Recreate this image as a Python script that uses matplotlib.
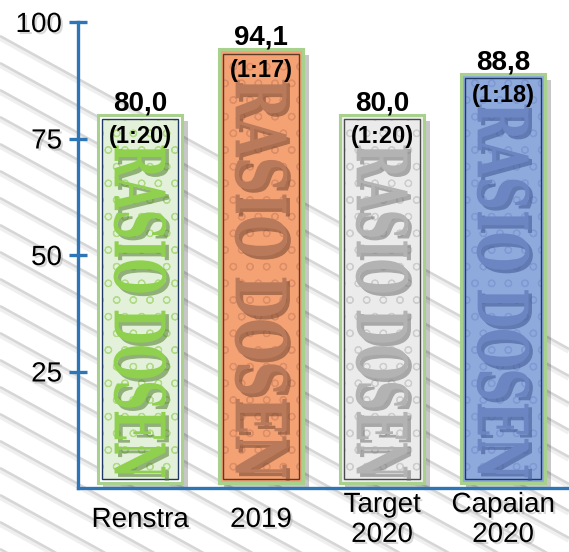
import matplotlib
matplotlib.use("Agg")
import matplotlib.pyplot as plt
import matplotlib.colors as mcolors
from matplotlib import patheffects as pe
from matplotlib.transforms import Affine2D
from matplotlib.lines import Line2D

# ---------------- data ----------------
categories = ["Renstra", "2019", "Target\n2020", "Capaian\n2020"]
values = [80.0, 94.1, 80.0, 88.8]
ratios = ["(1:20)", "(1:17)", "(1:20)", "(1:18)"]
yticks = [25, 50, 75, 100]
bar_word = "RASIO DOSEN"

# ---------------- styles ----------------
gap_colors = ["#ffffff", "#f4a274", "#eeeeee", "#8eaadc"]
fill_colors = ["#e4f1da", "#f4a274", "#ebebeb", "#8eaadc"]
hatch_colors = ["#b0db86", "#dc8d66", "#cdcdcd", "#7f99d2"]
inner_edge = ["#1f3864", "#5b3a26", "#4a4a4a", "#1f3864"]
word_colors = ["#8fd14f", "#b97a5b", "#b3b3b3", "#6b86c2"]
word_shadow = ["#4d7a2a", "#6e4330", "#707070", "#3d5590"]
AXIS_BLUE = "#2e75b6"
BORDER_GREEN = "#a9d18e"

plt.rcParams["font.family"] = ["Liberation Sans", "DejaVu Sans"]
plt.rcParams["hatch.linewidth"] = 0.8

W, H = 569, 552
fig = plt.figure(figsize=(W / 100, H / 100), dpi=100)
fig.patch.set_facecolor("white")

# background diagonal stripes (decoration)
slope = 0.55
spacing = 27.0
k = -int((slope * W) / spacing) - 2
while True:
    y0 = 387 + spacing * k
    if y0 > H + spacing:
        break
    y1 = y0 + slope * W
    fy0, fy1 = 1 - y0 / H, 1 - y1 / H
    fig.add_artist(Line2D([0, 1], [fy0 - 2 / H, fy1 - 2 / H], transform=fig.transFigure,
                          color="#efefef", lw=4.0, zorder=-3, solid_capstyle="butt"))
    fig.add_artist(Line2D([0, 1], [fy0, fy1], transform=fig.transFigure,
                          color="#d6d6d6", lw=1.8, zorder=-2, solid_capstyle="butt"))
    k += 1

ax = fig.add_axes([78 / W, (H - 488) / H, (W - 78) / W, (488 - 22) / H])
ax.patch.set_visible(False)
ax.set_xlim(-0.512, 3.545)
ax.set_ylim(0, 100)

x = list(range(len(categories)))


class StretchWord(pe.AbstractPathEffect):
    """Draw text path stretched to fill a box given in data coords, with a shadow."""

    def __init__(self, axes, xc, y0, y1, width_pt, shadow, offset=(2.5, -2.5)):
        super().__init__()
        self.axes = axes
        self.xc, self.y0, self.y1 = xc, y0, y1
        self.width_pt = width_pt
        self.shadow = mcolors.to_rgba(shadow)
        self.off = offset

    def draw_path(self, renderer, gc, tpath, affine, rgbFace=None):
        ext = tpath.get_extents(affine)
        dx0, dy0 = self.axes.transData.transform((self.xc, self.y0))
        _, dy1 = self.axes.transData.transform((self.xc, self.y1))
        tw = renderer.points_to_pixels(self.width_pt)
        th = abs(dy1 - dy0)
        sx = tw / ext.width
        sy = th / ext.height
        cx = ext.x0 + ext.width / 2
        cy = ext.y0 + ext.height / 2
        t = affine + Affine2D().translate(-cx, -cy).scale(sx, sy).translate(dx0, (dy0 + dy1) / 2)
        ox = renderer.points_to_pixels(self.off[0])
        oy = renderer.points_to_pixels(self.off[1])
        gc0 = renderer.new_gc()
        gc0.copy_properties(gc)
        gc0.set_alpha(0.55)
        renderer.draw_path(gc0, tpath, t + Affine2D().translate(ox, oy), self.shadow)
        gc0.restore()
        renderer.draw_path(gc, tpath, t, rgbFace)


bw = 0.70
inset_x = 0.066
for i, (xi, v) in enumerate(zip(x, values)):
    # outer bar with green border and shadow
    ax.bar(xi, v - 1.0, bottom=1.0, width=bw, facecolor=gap_colors[i],
           edgecolor=BORDER_GREEN, linewidth=2.2, zorder=2,
           path_effects=[pe.SimplePatchShadow(offset=(4, -4), shadow_rgbFace="black", alpha=0.22),
                         pe.Normal()])
    # inner fill
    ax.bar(xi, v - 2.8, bottom=1.9, width=bw - inset_x, facecolor=fill_colors[i],
           edgecolor="none", linewidth=0, zorder=3)
    # scale-like pattern
    ax.bar(xi, v - 2.8, bottom=1.9, width=bw - inset_x, facecolor="none",
           edgecolor=hatch_colors[i], hatch="o", linewidth=0, zorder=4)
    # inner dark outline
    ax.bar(xi, v - 2.8, bottom=1.9, width=bw - inset_x, facecolor="none",
           edgecolor=inner_edge[i], linewidth=1.0, zorder=5)
    # vertical word (stretched to fill the bar below the ratio label)
    y_lo, y_hi = 2.3, v - 6.5
    t = ax.text(xi, (y_lo + y_hi) / 2, bar_word, rotation=-90, ha="center", va="center",
                fontsize=20, fontweight="bold", family="DejaVu Serif",
                color=word_colors[i], zorder=6)
    t.set_path_effects([StretchWord(ax, xi, y_lo, y_hi, 38, word_shadow[i])])
    # value label
    ax.annotate(f"{v:.1f}".replace(".", ","), (xi, v), xytext=(0, 3.5),
                textcoords="offset points", ha="center", va="baseline",
                fontsize=20, fontweight="bold", color="black", zorder=8)
    # ratio label
    ax.annotate(ratios[i], (xi, v), xytext=(0, -20), textcoords="offset points",
                ha="center", va="baseline", fontsize=17, fontweight="bold",
                color="black", zorder=8)

shadow_fx = [pe.SimplePatchShadow(offset=(1.5, -1.5), shadow_rgbFace="gray", alpha=0.3), pe.Normal()]

for side in ["top", "right"]:
    ax.spines[side].set_visible(False)
for side in ["left", "bottom"]:
    ax.spines[side].set_color(AXIS_BLUE)
    ax.spines[side].set_linewidth(2.4)
    ax.spines[side].set_zorder(9)
    ax.spines[side].set_path_effects(shadow_fx)

ax.set_yticks(yticks, [str(t) for t in yticks], fontsize=20)
ax.tick_params(axis="y", direction="inout", length=13, width=2.4, color=AXIS_BLUE, pad=5)
ax.set_xticks(x, categories, fontsize=20, va="center", linespacing=1.2)
ax.tick_params(axis="x", length=0, pad=23)
for lab in ax.get_xticklabels() + ax.get_yticklabels():
    lab.set_path_effects(shadow_fx)

fig.savefig("out.png", dpi=100)
